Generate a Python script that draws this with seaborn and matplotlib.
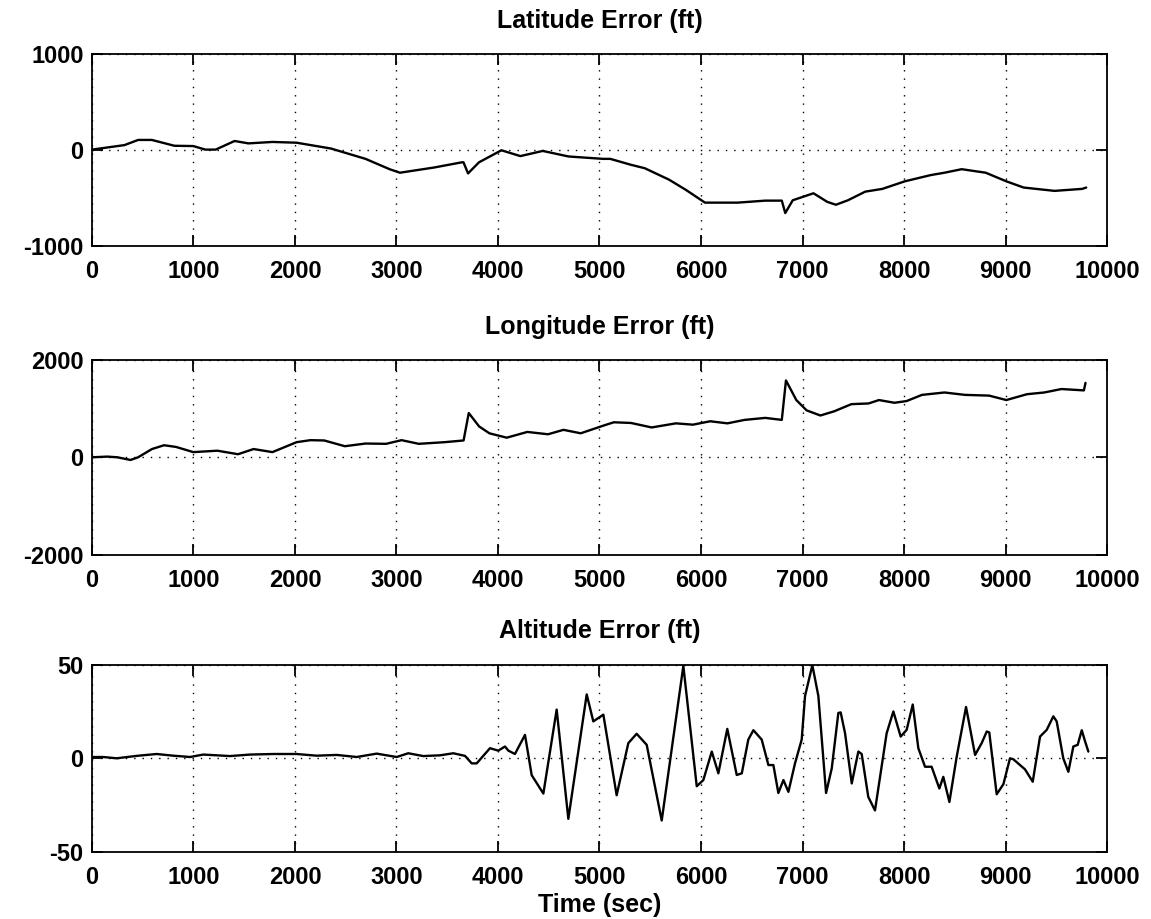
# Navigation error plots (latitude / longitude / altitude)

import pandas as pd
import numpy as np
import matplotlib
matplotlib.use("Agg")
import matplotlib.pyplot as plt
import seaborn as sns

# Data

lat_time = [0, 320, 455, 590, 812, 998, 1117, 1219, 1405, 1541, 1778, 2016,
            2355, 2695, 2932, 3034, 3373, 3644, 3660, 3705, 3813, 4034, 4220,
            4441, 4695, 5034, 5106, 5310, 5446, 5684, 5852, 6039, 6361, 6633,
            6796, 6830, 6904, 7108, 7244, 7329, 7448, 7618, 7787, 8008, 8262,
            8398, 8568, 8805, 9008, 9178, 9483, 9755, 9795]
lat_err = [5, 52, 106, 106, 45, 42, 5, 5, 95, 70, 85, 77,
           16, -92, -200, -237, -182, -128, -128, -244, -128, -2, -63,
           -9, -67, -92, -92, -154, -190, -309, -417, -550, -550, -529,
           -529, -659, -525, -452, -542, -572, -525, -435, -406, -327, -262,
           -237, -200, -237, -327, -392, -427, -406, -392]

lon_time = [0, 150, 250, 380, 455, 591, 710, 829, 998, 1235, 1439, 1592,
            1778, 2016, 2152, 2288, 2491, 2695, 2897, 3050, 3220, 3475, 3661,
            3712, 3814, 3915, 4086, 4289, 4493, 4645, 4815, 5035, 5141, 5310,
            5514, 5752, 5921, 6091, 6260, 6430, 6633, 6796, 6837, 6939, 7040,
            7176, 7312, 7482, 7651, 7753, 7906, 8025, 8177, 8398, 8601, 8838,
            9008, 9212, 9381, 9551, 9772, 9788]
lon_err = [4, 18, 4, -51, 4, 173, 251, 216, 110, 139, 67, 173,
           110, 314, 355, 349, 231, 286, 280, 355, 280, 314, 349,
           912, 637, 496, 406, 524, 476, 567, 496, 651, 722, 708,
           616, 700, 673, 743, 700, 771, 812, 771, 1580, 1178, 967,
           861, 947, 1094, 1108, 1178, 1122, 1157, 1284, 1333, 1284, 1269,
           1178, 1298, 1333, 1404, 1376, 1531]

alt_time = [0, 111, 243, 440, 637, 801, 966, 1097, 1360, 1557, 1786, 2016,
            2213, 2411, 2608, 2805, 3002, 3116, 3264, 3429, 3560, 3675, 3741,
            3790, 3921, 4003, 4069, 4102, 4167, 4266, 4332, 4447, 4578, 4693,
            4874, 4939, 5038, 5169, 5284, 5366, 5465, 5613, 5826, 5958, 6023,
            6106, 6171, 6259, 6352, 6402, 6466, 6516, 6598, 6664, 6713, 6762,
            6812, 6861, 6926, 6992, 7025, 7097, 7156, 7232, 7288, 7353, 7376,
            7419, 7485, 7550, 7583, 7648, 7714, 7829, 7895, 7967, 8026, 8086,
            8141, 8207, 8272, 8348, 8387, 8447, 8519, 8611, 8700, 8765, 8815,
            8840, 8913, 8979, 9044, 9077, 9192, 9268, 9340, 9406, 9471, 9504,
            9569, 9619, 9668, 9711, 9751, 9784, 9816]
alt_err = [0.7, 0.7, 0, 1.3, 2.3, 1.4, 0.7, 2, 1.2, 2, 2.3, 2.3,
           1.4, 1.8, 0.7, 2.5, 0.7, 2.7, 1.2, 1.6, 2.7, 1.3, -2.7,
           -2.7, 5.4, 4.1, 6.3, 4.1, 2.3, 12.5, -9, -18.8, 26, -32.3,
           34.1, 19.7, 23.3, -19.7, 8.1, 13.1, 7.2, -33.2, 49.3, -14.9, -11.6,
           3.6, -8, 15.7, -8.9, -8, 10, 15, 10, -3.6, -3.6, -18.5,
           -11.6, -17.9, -2.7, 10, 33.3, 49.7, 33.3, -18.5, -5.4, 24.2, 24.5,
           13.4, -13.4, 3.6, 2.3, -20.6, -27.8, 13.4, 25, 11.6, 15.2, 28.7,
           5.4, -4.5, -4.5, -16.1, -9.9, -23.3, 0.9, 27.4, 1.8, 8.1, 14.3,
           13.8, -19.2, -13.8, 0, -0.5, -5.9, -12.5, 11.6, 15.2, 22.4, 19.7,
           0, -7.2, 6.3, 7.2, 15, 9, 3.6]

titles = ["Latitude Error (ft)", "Longitude Error (ft)", "Altitude Error (ft)"]
y_limits = [1000, 2000, 50]
x_ticks = list(range(0, 10001, 1000))

# Style

sns.set_style("ticks")
plt.rcParams["font.family"] = ["Liberation Sans", "DejaVu Sans"]
plt.rcParams["font.weight"] = "bold"
plt.rcParams["axes.unicode_minus"] = False
plt.rcParams["text.color"] = "black"
plt.rcParams["axes.labelcolor"] = "black"

fig = plt.figure(figsize=(11.51, 9.19), dpi=100)

# axes boxes (left, bottom, width, height) in figure fractions
boxes = [
    (0.0799, 0.7327, 0.8819, 0.2080),
    (0.0799, 0.3961, 0.8819, 0.2122),
    (0.0799, 0.0729, 0.8819, 0.2039),
]

series = [
    pd.DataFrame({"time": lat_time, "err": lat_err}),
    pd.DataFrame({"time": lon_time, "err": lon_err}),
    pd.DataFrame({"time": alt_time, "err": alt_err}),
]

for i in range(3):
    ax = fig.add_axes(boxes[i])

    sns.lineplot(
        data=series[i],
        x="time",
        y="err",
        color="black",
        linewidth=1.7,
        ax=ax
    )

    lim = y_limits[i]
    ax.set_xlim(0, 10000)
    ax.set_ylim(-lim, lim)
    ax.set_xticks(x_ticks)
    ax.set_yticks([-lim, 0, lim])

    ax.grid(True, linestyle=(0, (1, 5)), color="black", linewidth=1.0)

    for side in ["top", "right", "bottom", "left"]:
        ax.spines[side].set_visible(True)
        ax.spines[side].set_linewidth(1.3)
        ax.spines[side].set_color("black")

    ax.tick_params(
        direction="in",
        length=8,
        width=1.3,
        top=True,
        right=True,
        labelsize=17,
        colors="black"
    )
    ax.tick_params(axis="x", pad=10)
    ax.tick_params(axis="y", pad=6)

    for lab in ax.get_xticklabels() + ax.get_yticklabels():
        lab.set_fontweight("bold")

    ax.set_title(titles[i], fontsize=18, fontweight="bold", pad=19,
                 color="black")
    ax.set_ylabel("")

    if i == 2:
        ax.set_xlabel("Time (sec)", fontsize=18, fontweight="bold",
                      labelpad=3, color="black")
    else:
        ax.set_xlabel("")

plt.savefig("out.png", dpi=100)
